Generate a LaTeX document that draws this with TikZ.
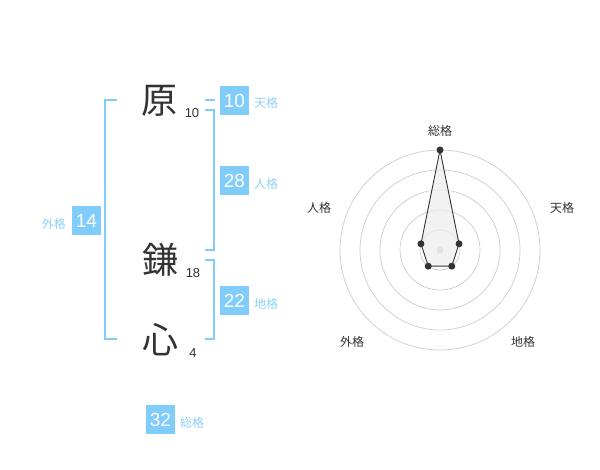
\documentclass[tikz,border=0pt]{standalone}
\usepackage{fontspec}
\setmainfont{Liberation Sans}
\newfontfamily\cjk{Noto Sans CJK JP}
\definecolor{bluebox}{HTML}{80CCFA}
\definecolor{bluetxt}{HTML}{8FD0F8}
\definecolor{dark}{HTML}{333333}
\definecolor{ring}{HTML}{CCCCCC}
\begin{document}
\begin{tikzpicture}[x=1pt,y=-1pt,
  bigchar/.style={font=\cjk\fontsize{36}{36}\selectfont, text=dark, inner sep=0},
  stroke/.style={font=\fontsize{13}{13}\selectfont, text=dark, inner sep=0},
  numbox/.style={fill=bluebox, text=white, minimum width=29, minimum height=29, inner sep=0, font=\fontsize{19}{19}\selectfont},
  kaku/.style={font=\cjk\fontsize{12}{12}\selectfont, text=bluetxt, inner sep=0},
  bracket/.style={draw=bluebox, line width=1.6},
  axislbl/.style={font=\cjk\fontsize{12}{12}\selectfont, text=dark, inner sep=0},
  dot/.style={circle, fill=dark, inner sep=0, minimum size=7}]
\useasboundingbox (0,0) rectangle (600,470);
% characters
\node[bigchar] (c1) at (159,101) {原};
\node[bigchar] (c2) at (160,260) {鎌};
\node[bigchar] (c3) at (160,340) {心};
\node[stroke] (s1) at (192,113) {10};
\node[stroke] (s2) at (193,273) {18};
\node[stroke] (s3) at (193,353) {4};
% brackets
\coordinate (lt) at (117,100); \coordinate (lb) at (117,339);
\draw[bracket] (lt) -| (105,339) -- (lb);
\draw[bracket] (205,100) -- (215,100);
\draw[bracket] (205,110) -| (214,250) -- (205,250);
\draw[bracket] (205,260) -| (214,339) -- (205,339);
% boxes
\node[numbox] (ten) at (234.5,100.5) {10};
\node[kaku, anchor=west] (tenl) at (254,103) {天格};
\node[numbox] (jin) at (234.5,181) {28};
\node[kaku, anchor=west] (jinl) at (254,184) {人格};
\node[numbox] (chi) at (234.5,301) {22};
\node[kaku, anchor=west] (chil) at (254,304) {地格};
\node[numbox] (gai) at (86.5,220.5) {14};
\node[kaku, anchor=east] (gail) at (66,224) {外格};
\node[numbox] (sou) at (160.5,419.5) {32};
\node[kaku, anchor=west] (soul) at (180,423) {総格};
% radar
\coordinate (o) at (440,250);
\foreach \r in {20,40,60,80,100} \draw[ring, line width=0.7] (o) circle[radius=\r];
\fill[ring] (o) circle[radius=3.5];
\path (o) ++(0,-100) coordinate (p1);
\path (o) ++(19.02,-6.18) coordinate (p2);
\path (o) ++(11.76,16.18) coordinate (p3);
\path (o) ++(-11.76,16.18) coordinate (p4);
\path (o) ++(-19.02,-6.18) coordinate (p5);
\draw[dark, line width=0.9, fill=gray!15, fill opacity=0.7] (p1) -- (p2) -- (p3) -- (p4) -- (p5) -- cycle;
\foreach \p in {p1,p2,p3,p4,p5} \node[dot] at (\p) {};
\node[axislbl] (a1) at (440,131) {総格};
\node[axislbl] (a2) at (562,208) {天格};
\node[axislbl] (a3) at (523,342) {地格};
\node[axislbl] (a4) at (352,342) {外格};
\node[axislbl] (a5) at (319,208) {人格};
\end{tikzpicture}
\end{document}
